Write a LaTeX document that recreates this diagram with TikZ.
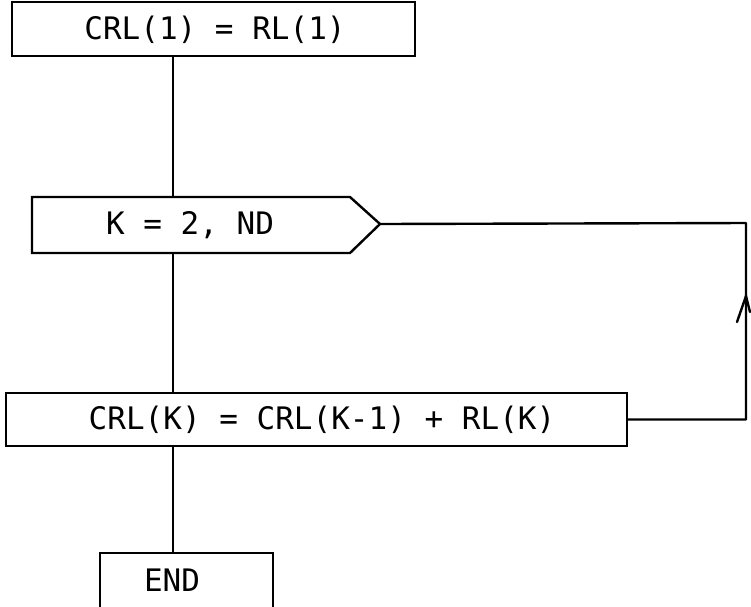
\documentclass[tikz,border=0pt]{standalone}
\usepackage{fontspec}
\newfontfamily\tw{DejaVu Sans Mono}
\usetikzlibrary{arrows.meta}
\tikzset{
  flowbox/.style={draw, line width=2.4pt, inner sep=0pt},
  lbl/.style={font=\tw\fontsize{31}{33}\selectfont, inner sep=0pt},
  conn/.style={line width=2.4pt},
}
\begin{document}
\begin{tikzpicture}[x=1pt,y=-1pt]
\useasboundingbox (0,0) rectangle (751,606);
\clip (0,0) rectangle (751,606);
% box 1
\node[flowbox, minimum width=403pt, minimum height=54pt] (b1) at (213.5,29) {};
\node[lbl] (t1) at (215,30) {CRL(1) = RL(1)};
% box 2 (loop pentagon)
\coordinate (b2nw) at (32,197);
\coordinate (b2ne) at (350,197);
\coordinate (b2tip) at (380,224);
\coordinate (b2se) at (350,253);
\coordinate (b2sw) at (32,253);
\coordinate (b2n) at (173,197);
\coordinate (b2s) at (173,253);
\draw[conn, line join=miter] (b2nw) -- (b2ne) -- (b2tip) -- (b2se) -- (b2sw) -- cycle;
\node[lbl] (t2) at (190,225) {K = 2, ND};
% box 3
\node[flowbox, minimum width=621pt, minimum height=53pt] (b3) at (316.5,419.5) {};
\node[lbl] (t3) at (322,420) {CRL(K) = CRL(K-1) + RL(K)};
% END box (cut off at bottom)
\node[flowbox, minimum width=173pt, minimum height=120pt] (b4) at (186.5,613) {};
\node[lbl] (t4) at (172,580) {END};
% connectors
\draw[conn] (b1.south -| b2n) -- (b2n);
\draw[conn] (b2s) -- (b3.north -| b2s);
\draw[conn] (b3.south -| b2s) -- (b4.north -| b2s);
% loop back
\coordinate (lr) at (746,419.5);
\coordinate (ur) at (746,223);
\coordinate (am) at (746,296);
\coordinate (al) at (737,322);
\coordinate (ar) at (750,312);
\draw[conn, line join=round] (b3.east) -- (lr) -- (ur) -- (b2tip);
\draw[conn, line cap=round, line join=miter] (al) -- (am) -- (ar);
\end{tikzpicture}
\end{document}
